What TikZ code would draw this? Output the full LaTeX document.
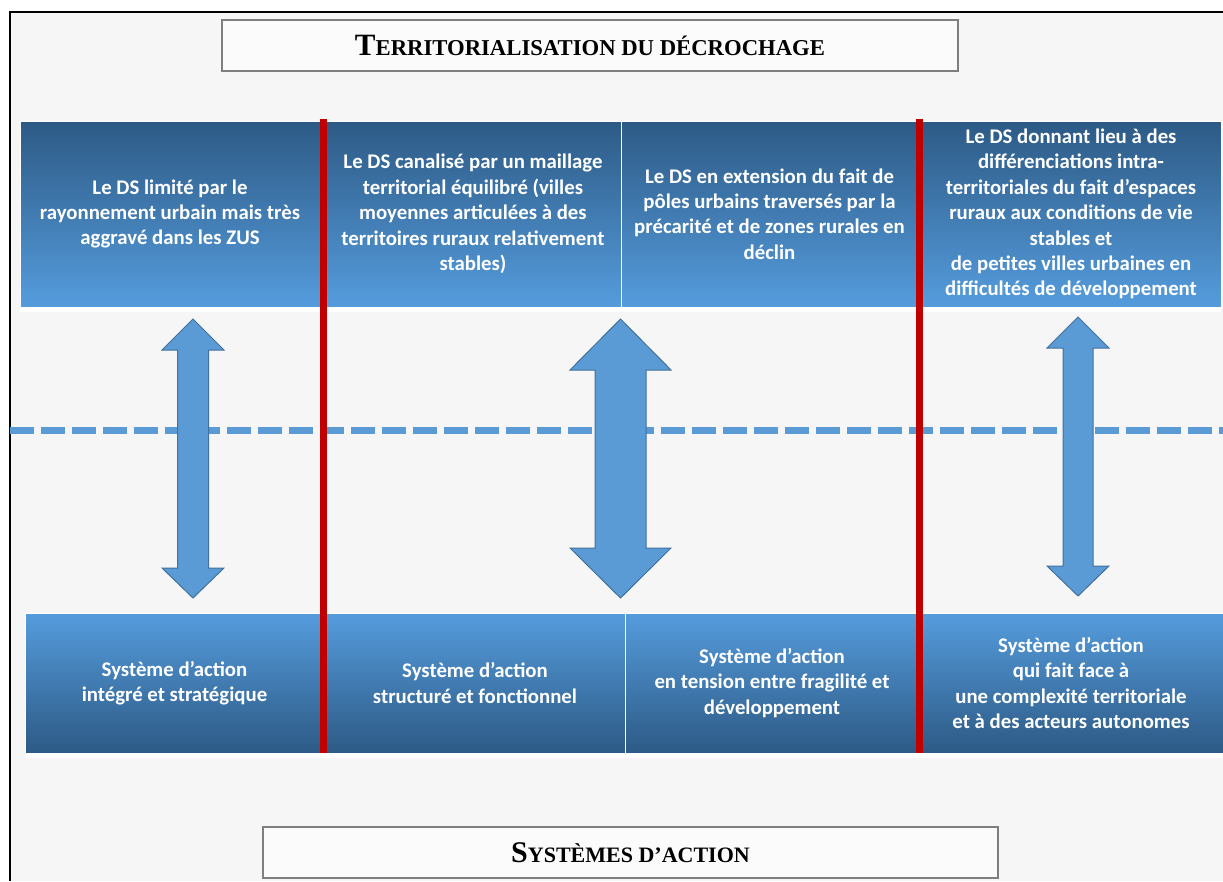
\documentclass[tikz,border=0pt]{standalone}
\usepackage{fontspec}
\newfontfamily\carlito{Carlito}
\newfontfamily\serifb{Liberation Serif}
\definecolor{boxdark}{HTML}{2D5A85}
\definecolor{boxlight}{HTML}{559CDD}
\definecolor{arrowfill}{HTML}{5B9BD5}
\definecolor{arrowline}{HTML}{41719C}
\definecolor{redline}{HTML}{C00000}
\definecolor{bgcol}{HTML}{F6F6F6}
\definecolor{titleline}{HTML}{7F7F7F}
\tikzset{
  box/.style={rectangle, draw=white, line width=1pt, inner sep=0pt, text=white,
    align=center, font=\carlito\bfseries\fontsize{20.8}{25.4}\selectfont},
  topbox/.style={box, top color=boxdark, bottom color=boxlight},
  botbox/.style={box, top color=boxlight, bottom color=boxdark},
  titlebox/.style={rectangle, draw=titleline, line width=1.5pt, fill=white!60!bgcol,
    minimum width=736pt, minimum height=51pt, inner sep=0pt, text=black},
  blockarrow/.style={fill=arrowfill, draw=arrowline, line width=1pt, line join=miter},
  separator/.style={draw=redline, line width=7pt},
  midline/.style={draw=arrowfill, line width=7pt, dash pattern=on 24pt off 7pt},
}
\newcommand{\bigc}[2]{{\fontsize{#2}{#2}\selectfont #1}}
\newcommand{\smc}[2]{{\fontsize{#2}{#2}\selectfont #1}}
\begin{document}
\begin{tikzpicture}[x=1pt,y=-1pt]
\useasboundingbox (0,0) rectangle (1223,881);
\fill[white] (0,0) rectangle (1223,881);
\fill[bgcol] (10,12) rectangle (1223,881);
\draw[line width=2pt, black] (10,881) -- (10,12) -- (1223,12);

% titles
\node[titlebox] (t1) at (590,45.5) {\serifb\bfseries\bigc{T}{31}\smc{ERRITORIALISATION DU DÉCROCHAGE}{22.7}};
\node[titlebox, minimum width=735pt] (t2) at (630.5,852.5) {\serifb\bfseries\bigc{S}{30}\smc{YSTÈMES D’ACTION}{22}};

% white strips
\fill[white] (20,307) rectangle (1221,312);
\fill[white] (25,753) rectangle (1222,758);

% top boxes
\node[topbox, minimum width=300pt, minimum height=186pt] (a1) at (170,214) {Le DS limité par le\\rayonnement urbain mais très\\aggravé dans les ZUS};
\node[topbox, minimum width=296pt, minimum height=186pt] (a2) at (473,214) {Le DS canalisé par un maillage\\territorial équilibré (villes\\moyennes articulées à des\\territoires ruraux relativement\\stables)};
\node[topbox, minimum width=296pt, minimum height=186pt] (a3) at (769.5,214) {Le DS en extension du fait de\\pôles urbains traversés par la\\précarité et de zones rurales en\\déclin};
\node[topbox, minimum width=300pt, minimum height=186pt] (a4) at (1071,214) {Le DS donnant lieu à des\\différenciations intra-\\territoriales du fait d’espaces\\ruraux aux conditions de vie\\stables et\\de petites villes urbaines en\\difficultés de développement};

% bottom boxes
\node[botbox, minimum width=299pt, minimum height=140pt] (b1) at (174.5,683) {Système d’action\\intégré et stratégique};
\node[botbox, minimum width=300pt, minimum height=140pt] (b2) at (475,683) {Système d’action\\structuré et fonctionnel};
\node[botbox, minimum width=294pt, minimum height=140pt] (b3) at (772,683) {Système d’action\\en tension entre fragilité et\\développement};
\node[botbox, minimum width=304pt, minimum height=140pt] (b4) at (1071,683) {Système d’action\\qui fait face à\\une complexité territoriale\\et à des acteurs autonomes};

% dashed middle line
\draw[midline] (10,430) -- (1223,430);

% double block arrows
\draw[blockarrow] (193,319) -- (224,350) -- (208.5,350) -- (208.5,568) -- (224,568) -- (193,598)
  -- (162,568) -- (177.5,568) -- (177.5,350) -- (162,350) -- cycle;
\draw[blockarrow] (620.5,319) -- (671,370) -- (646,370) -- (646,548) -- (671,548) -- (620.5,598)
  -- (570,548) -- (595,548) -- (595,370) -- (570,370) -- cycle;
\draw[blockarrow] (1078,317) -- (1109,348) -- (1093,348) -- (1093,566) -- (1109,566) -- (1078,596)
  -- (1047,566) -- (1063,566) -- (1063,348) -- (1047,348) -- cycle;

% red separators
\draw[separator] (323,119) -- (323,753);
\draw[separator] (919,119) -- (919,753);
\end{tikzpicture}
\end{document}
